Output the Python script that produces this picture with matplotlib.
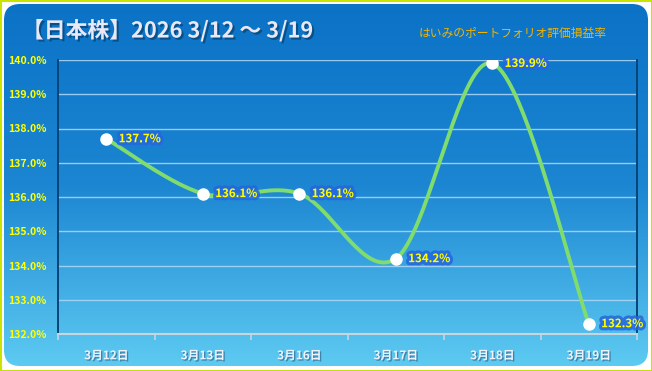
import numpy as np
import matplotlib.pyplot as plt
import matplotlib.patheffects as pe
from matplotlib.patches import FancyBboxPatch, Rectangle
from matplotlib.colors import LinearSegmentedColormap

plt.rcParams['font.family'] = ['Noto Sans CJK JP', 'DejaVu Sans']

# データ
dates = ['3月12日', '3月13日', '3月16日', '3月17日', '3月18日', '3月19日']
rate = [137.7, 136.1, 136.1, 134.2, 139.9, 132.3]
yticks = [132, 133, 134, 135, 136, 137, 138, 139, 140]
title = '【日本株】2026 3/12 ～ 3/19'
subtitle = 'はいみのポートフォリオ評価損益率'


# Excel風のスムージング (Catmull-Rom -> Bezier)
def smooth_line(xs, ys, n=40):
    pts = np.column_stack([xs, ys]).astype(float)
    out = []
    for i in range(len(pts) - 1):
        p0 = pts[max(i - 1, 0)]
        p1 = pts[i]
        p2 = pts[i + 1]
        p3 = pts[min(i + 2, len(pts) - 1)]
        c1 = p1 + (p2 - p0) / 6
        c2 = p2 - (p3 - p1) / 6
        t = np.linspace(0, 1, n)[:, None]
        seg = (1 - t) ** 3 * p1 + 3 * (1 - t) ** 2 * t * c1 + 3 * (1 - t) * t ** 2 * c2 + t ** 3 * p2
        out.append(seg if i == 0 else seg[1:])
    out = np.vstack(out)
    return out[:, 0], out[:, 1]


fig = plt.figure(figsize=(6.52, 3.71), dpi=100)
fig.patch.set_facecolor('white')

# 背景 (角丸 + グラデーション)
bg = fig.add_axes([0, 0, 1, 1])
bg.set_xlim(0, 652)
bg.set_ylim(371, 0)
bg.axis('off')
cmap = LinearSegmentedColormap.from_list('bg', ['#0B72C6', '#1C86D2', '#5ECBF2'])
grad = np.linspace(0, 1, 256)[:, None]
img = bg.imshow(grad, cmap=cmap, extent=[3, 649, 368, 3], aspect='auto', zorder=0)
box = FancyBboxPatch((4, 4), 644, 362, boxstyle='round,pad=0,rounding_size=16',
                     transform=bg.transData, facecolor='none', edgecolor='none')
bg.add_patch(box)
img.set_clip_path(box)
bg.add_patch(Rectangle((0.5, 0.5), 651, 370, facecolor='none', edgecolor='#C8E400',
                       linewidth=1.5, zorder=1))

# タイトル
fig.text(22 / 652, 1 - 31 / 371, title, fontsize=15.7, fontweight='bold', color='#E8E8F6',
         ha='left', va='center',
         path_effects=[pe.withSimplePatchShadow(offset=(1.5, -1.5), shadow_rgbFace='#08406E', alpha=0.7)])
fig.text(607 / 652, 1 - 33 / 371, subtitle, fontsize=8.5, color='#F2B400',
         ha='right', va='center')

# メインのグラフ
ax = fig.add_axes([58 / 652, 1 - 334 / 371, (637 - 58) / 652, (334 - 60) / 371])
ax.patch.set_alpha(0)
x = np.arange(len(dates))
sx, sy = smooth_line(x, rate)
ax.plot(sx, sy, color='#80DC6C', linewidth=2.8, solid_capstyle='round', zorder=3)
ax.plot(x, rate, linestyle='none', marker='o', markersize=8, markerfacecolor='white',
        markeredgecolor='white', zorder=4)

for xi, v in zip(x, rate):
    ax.annotate(f'{v:.1f}%', (xi, v), xytext=(9, 0), textcoords='offset points',
                ha='left', va='center', fontsize=8.3, fontweight='bold', color='#FFFF00', zorder=5,
                path_effects=[pe.Stroke(linewidth=4.5, foreground='#2466E0', alpha=0.85), pe.Normal()])

ax.set_xlim(-0.5, len(dates) - 0.5)
ax.set_ylim(132, 140)
ax.set_yticks(yticks)
ax.set_yticklabels([f'{v:.1f}%' for v in yticks], fontsize=7.6, fontweight='bold', color='#FFFF00')
ax.tick_params(axis='y', length=0, pad=8)
ax.set_xticks(x)
ax.set_xticklabels(dates, fontsize=8.5, fontweight='bold', color='#EEF2FA')
for lbl in ax.get_xticklabels():
    lbl.set_path_effects([pe.withSimplePatchShadow(offset=(1, -1), shadow_rgbFace='#2A5A80', alpha=0.6)])
ax.tick_params(axis='x', which='major', length=0, pad=11)
ax.set_xticks(np.arange(-0.5, len(dates)), minor=True)
ax.tick_params(axis='x', which='minor', length=4, width=1.2, color='#C8D4DE', direction='out')

ax.grid(axis='y', color='#A8D4F4', linewidth=1, alpha=0.9)
ax.set_axisbelow(True)
for side in ['left', 'right']:
    ax.spines[side].set_color('#0A4478')
    ax.spines[side].set_linewidth(1.4)
ax.spines['top'].set_visible(False)
ax.spines['bottom'].set_color('#C8D4DE')
ax.spines['bottom'].set_linewidth(1.5)

fig.savefig('out.png', dpi=100)
